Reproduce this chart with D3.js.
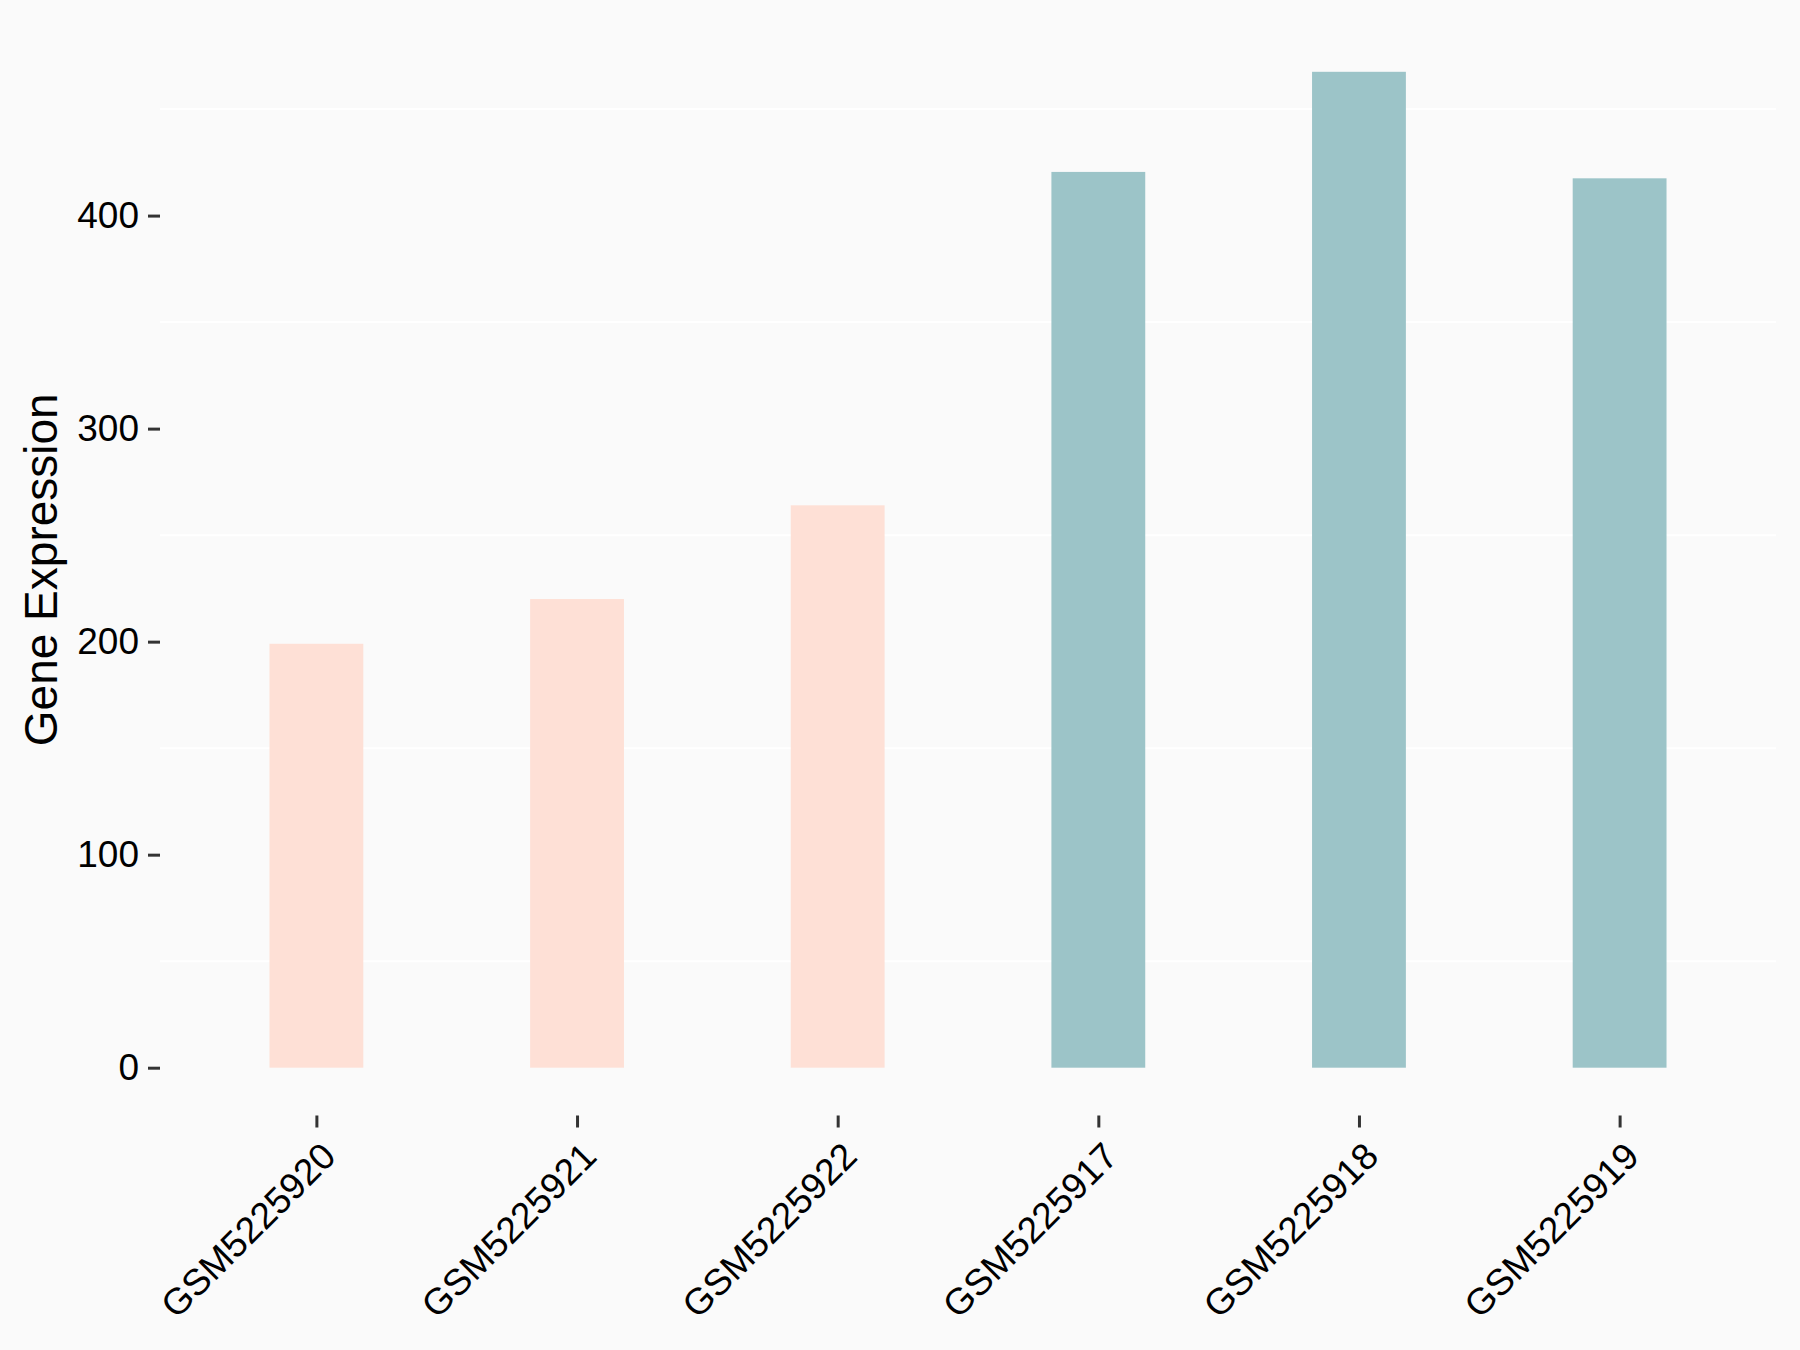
<!DOCTYPE html>
<html>
<head>
<meta charset="utf-8">
<script src="https://cdn.jsdelivr.net/npm/d3@7"></script>
<style>
  html, body { margin: 0; padding: 0; background: #FAFAFA; }
  svg { display: block; }
  text { font-family: "Liberation Sans", Arial, sans-serif; }
</style>
</head>
<body>
<svg id="chart" width="1800" height="1350"></svg>
<script>
const samples = ["GSM5225920", "GSM5225921", "GSM5225922", "GSM5225917", "GSM5225918", "GSM5225919"];
const expression = [199, 220, 264, 420.5, 467.5, 417.5];
const groups = ["A", "A", "A", "B", "B", "B"];
const groupColors = { A: "#FEE0D6", B: "#9CC4C8" };
const yTicks = [0, 100, 200, 300, 400];
const yMinorLines = [50, 150, 250, 350, 450];

const W = 1800, H = 1350;
const panel = { left: 160, right: 1776, top: 22, bottom: 1117.5 };

const svg = d3.select("#chart");
svg.append("rect").attr("width", W).attr("height", H).attr("fill", "#FAFAFA");

const maxV = d3.max(expression);
const pad = maxV * 0.05;
const y = d3.scaleLinear().domain([-pad, maxV + pad]).range([panel.bottom, panel.top]);
const x = d3.scalePoint().domain(samples).range([panel.left, panel.right]).padding(0.6);
const barW = x.step() * 0.36;

// gridlines
svg.append("g").selectAll("line").data(yMinorLines).join("line")
  .attr("x1", panel.left).attr("x2", panel.right)
  .attr("y1", d => y(d)).attr("y2", d => y(d))
  .attr("stroke", "#FFFFFF").attr("stroke-width", 2);

// bars
svg.append("g").selectAll("rect").data(samples).join("rect")
  .attr("x", d => x(d) - barW / 2)
  .attr("width", barW)
  .attr("y", (d, i) => y(expression[i]))
  .attr("height", (d, i) => y(0) - y(expression[i]))
  .attr("fill", (d, i) => groupColors[groups[i]]);

// y axis
const yAxis = d3.axisLeft(y).tickValues(yTicks).tickSize(12).tickPadding(9).tickFormat(d3.format("d"));
const gy = svg.append("g").attr("transform", `translate(${panel.left},0)`).call(yAxis);
gy.select(".domain").remove();
gy.selectAll(".tick line").attr("stroke", "#333333").attr("stroke-width", 3);
gy.selectAll(".tick text").attr("fill", "#000").style("font-size", "37px")
  .style("font-family", "'Liberation Sans', Arial, sans-serif");

// x axis
const xAxis = d3.axisBottom(x).tickSize(12).tickPadding(0);
const gx = svg.append("g").attr("transform", `translate(0,${panel.bottom - 2})`).call(xAxis);
gx.select(".domain").remove();
gx.selectAll(".tick line").attr("stroke", "#333333").attr("stroke-width", 3);
gx.selectAll(".tick text")
  .attr("fill", "#000")
  .style("font-size", "37px")
  .style("font-family", "'Liberation Sans', Arial, sans-serif")
  .attr("text-anchor", "end")
  .attr("dy", null)
  .attr("y", null)
  .attr("transform", "translate(21,43) rotate(-45)");

// y title
svg.append("text")
  .attr("transform", `translate(57,${(panel.top + panel.bottom) / 2}) rotate(-90)`)
  .attr("text-anchor", "middle")
  .attr("fill", "#000")
  .style("font-size", "46px")
  .text("Gene Expression");
</script>
</body>
</html>
